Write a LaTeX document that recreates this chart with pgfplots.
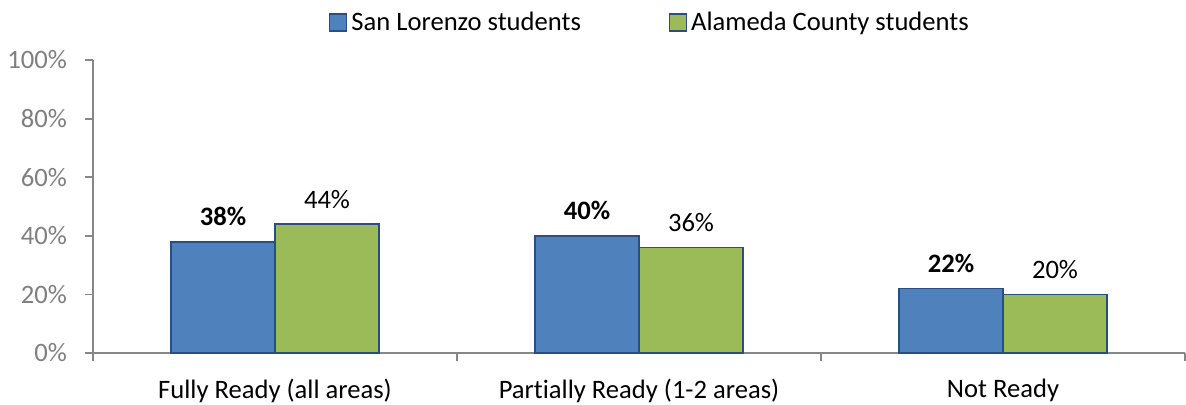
\documentclass[border=0pt]{standalone}
\usepackage{pgfplots}
\pgfplotsset{compat=1.18}
\usepackage{fontspec}
\setmainfont{Carlito}[Ligatures=CommonOff]
\definecolor{slblue}{HTML}{4F81BD}
\definecolor{acgreen}{HTML}{9BBB59}
\definecolor{baredge}{HTML}{2B4E82}
\definecolor{axisgray}{HTML}{878787}
\definecolor{ticktext}{HTML}{7F7F7F}
\newcommand{\chartfont}{\fontsize{13.3pt}{15pt}\selectfont}

\begin{document}
\begin{tikzpicture}
\useasboundingbox (0,0) rectangle (593pt,202pt);
\begin{axis}[
  at={(46.5pt,25.5pt)}, anchor=south west,
  scale only axis, width=546pt, height=146.5pt,
  ymin=0, ymax=100, xmin=-0.5, xmax=2.5,
  ybar=0pt, bar width=52pt,
  axis x line*=bottom, axis y line*=left,
  axis line style={axisgray, line width=0.9pt},
  tick align=outside,
  major tick length=4pt, minor tick length=4pt,
  ytick={0,20,...,100},
  yticklabel={\pgfmathprintnumber{\tick}\%},
  /pgf/number format/assume math mode=true,
  ytick style={axisgray, line width=0.9pt},
  yticklabel style={ticktext, font=\chartfont, xshift=-5.5pt},
  xtick={0,1,2},
  xticklabels={Fully Ready (all areas), Partially Ready (1-2 areas), Not Ready},
  xticklabel style={black, font=\chartfont, yshift=-5.5pt},
  major x tick style={draw=none},
  minor xtick={-0.5,0.5,1.5,2.5},
  minor x tick style={axisgray, line width=0.9pt},
  legend columns=2,
  legend style={draw=none, fill=none, font=\chartfont,
    at={(0.511,1.128)}, anchor=center,
    /tikz/every even column/.append style={column sep=42pt}},
  legend cell align=left,
  legend image code/.code={\draw[#1, line width=0.6pt] (-1.5pt,-4.25pt) rectangle (7pt,4.25pt);},
  nodes near coords={\pgfmathprintnumber{\pgfplotspointmeta}\%},
  every node near coord/.append style={black, font=\chartfont, anchor=center, yshift=12.5pt},
]
\addplot[fill=slblue, draw=baredge, line width=0.9pt,
  every node near coord/.append style={font=\chartfont\bfseries}]
  coordinates {(0,38) (1,40) (2,22)};
\addplot[fill=acgreen, draw=baredge, line width=0.9pt]
  coordinates {(0,44) (1,36) (2,20)};
\legend{San Lorenzo students, Alameda County students}
\end{axis}
\end{tikzpicture}
\end{document}
